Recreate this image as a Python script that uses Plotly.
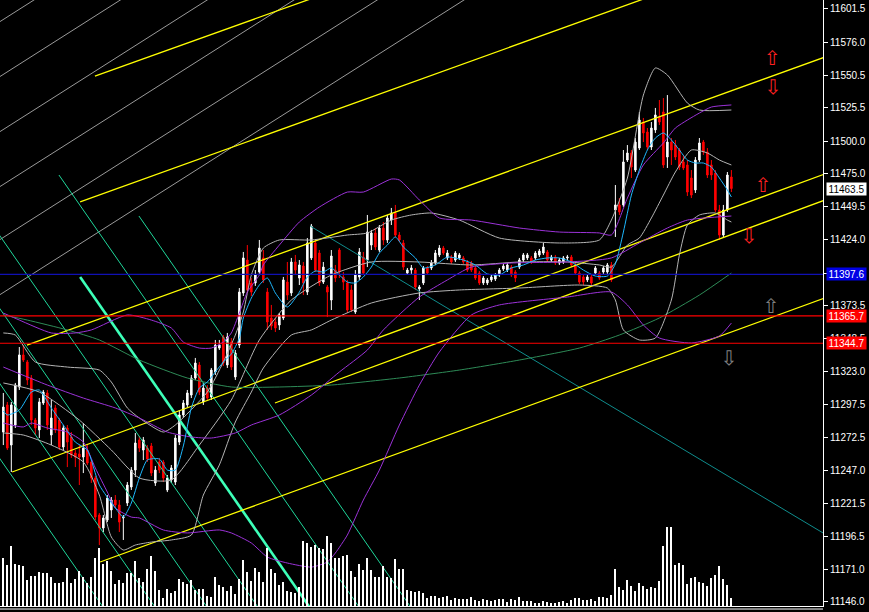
import plotly.graph_objects as go

# ---- candles, oldest first (one bar per index) ----
OPEN = [11276.5, 11297.3, 11266.5, 11281.9, 11311.1, 11335.7, 11330.3, 11318.0, 11285.7, 11278.1,
        11298.8, 11306.5, 11274.2, 11295.0, 11285.7, 11265.0, 11279.6, 11272.7, 11260.4, 11259.6,
        11257.3, 11262.7, 11253.5, 11241.2, 11212.8, 11202.8, 11208.9, 11216.6, 11224.3, 11220.5,
        11210.5, 11222.0, 11234.3, 11247.3, 11270.4, 11262.7, 11264.2, 11265.8, 11237.4, 11253.5,
        11253.5, 11232.0, 11239.7, 11238.1, 11268.8, 11289.6, 11297.3, 11304.9, 11318.0, 11328.0,
        11299.6, 11310.3, 11303.4, 11322.6, 11341.0, 11349.5, 11328.0, 11345.6, 11318.8, 11343.3,
        11383.3, 11408.6, 11391.0, 11391.0, 11399.4, 11410.2, 11384.0, 11364.1, 11361.0, 11358.7,
        11364.1, 11391.7, 11383.3, 11407.1, 11394.8, 11404.0, 11384.0, 11410.2, 11421.7, 11414.0,
        11391.7, 11387.9, 11377.9, 11400.9, 11416.3, 11395.6, 11391.0, 11385.6, 11368.7, 11395.6,
        11410.9, 11408.6, 11420.1, 11429.4, 11416.3, 11433.2, 11424.0, 11439.3, 11444.7, 11427.8,
        11421.7, 11398.6, 11400.9, 11400.9, 11386.4, 11391.0, 11402.5, 11402.5, 11406.3, 11412.5,
        11417.8, 11410.2, 11410.9, 11408.6, 11410.2, 11410.2, 11407.1, 11406.3, 11402.5, 11398.6,
        11391.0, 11391.0, 11393.3, 11394.0, 11397.1, 11401.7, 11400.9, 11403.2, 11399.4, 11403.2,
        11408.6, 11410.2, 11410.2, 11410.2, 11412.5, 11414.0, 11414.8, 11408.6, 11410.9, 11406.3,
        11407.1, 11410.2, 11410.9, 11404.8, 11398.6, 11395.6, 11393.3, 11395.6, 11398.6, 11398.6,
        11399.4, 11399.4, 11404.8, 11447.0, 11450.9, 11450.9, 11485.4, 11490.8, 11477.7, 11494.6,
        11514.6, 11506.9, 11495.4, 11508.5, 11518.4, 11522.3, 11487.7, 11499.2, 11496.9, 11493.1,
        11483.9, 11481.6, 11471.6, 11462.4, 11485.4, 11499.2, 11491.6, 11481.6, 11475.4, 11447.0,
        11427.8, 11447.0, 11472.4]
HIGH = [11306.5, 11299.6, 11299.6, 11314.2, 11341.8, 11343.3, 11331.8, 11320.3, 11287.3, 11302.6,
        11308.8, 11308.8, 11301.1, 11297.3, 11287.3, 11281.9, 11281.9, 11276.5, 11262.7, 11266.5,
        11283.4, 11266.5, 11255.0, 11242.7, 11214.3, 11212.8, 11228.1, 11226.6, 11228.1, 11224.3,
        11212.8, 11238.1, 11249.6, 11275.8, 11273.5, 11272.7, 11266.5, 11268.1, 11250.4, 11256.6,
        11255.0, 11243.5, 11251.2, 11274.2, 11293.4, 11301.1, 11308.8, 11320.3, 11333.4, 11330.3,
        11314.2, 11312.6, 11325.7, 11347.2, 11347.2, 11351.0, 11352.6, 11348.7, 11339.5, 11387.1,
        11414.8, 11420.1, 11394.8, 11400.9, 11424.0, 11416.3, 11387.1, 11374.1, 11364.1, 11367.9,
        11395.6, 11407.1, 11410.2, 11412.5, 11408.6, 11407.1, 11425.5, 11436.3, 11424.0, 11416.3,
        11407.1, 11389.4, 11416.3, 11404.8, 11417.8, 11399.4, 11393.3, 11389.4, 11400.9, 11417.8,
        11414.8, 11443.2, 11431.7, 11433.2, 11435.5, 11437.8, 11443.2, 11448.6, 11450.9, 11430.1,
        11424.0, 11402.5, 11404.8, 11402.5, 11389.4, 11404.0, 11404.0, 11408.6, 11416.3, 11420.1,
        11419.4, 11416.3, 11412.5, 11415.5, 11414.0, 11411.7, 11408.6, 11407.9, 11404.0, 11400.2,
        11396.3, 11394.8, 11397.1, 11398.6, 11402.5, 11405.6, 11406.3, 11404.8, 11400.9, 11410.2,
        11414.0, 11414.0, 11411.7, 11415.5, 11417.1, 11421.7, 11416.3, 11412.5, 11412.5, 11410.2,
        11411.7, 11412.5, 11412.5, 11406.3, 11400.2, 11397.1, 11397.1, 11397.1, 11404.0, 11400.2,
        11404.0, 11406.3, 11407.1, 11466.2, 11456.2, 11493.1, 11496.9, 11493.1, 11502.3, 11522.3,
        11517.7, 11510.0, 11514.6, 11525.4, 11531.5, 11533.0, 11535.3, 11502.3, 11500.8, 11494.6,
        11489.3, 11485.4, 11477.7, 11487.7, 11502.3, 11500.8, 11494.6, 11485.4, 11477.7, 11450.9,
        11450.9, 11476.2, 11477.7]
LOW = [11266.5, 11262.7, 11245.8, 11279.6, 11308.8, 11330.3, 11312.6, 11281.9, 11274.2, 11271.9,
       11297.3, 11278.1, 11266.5, 11275.8, 11262.7, 11262.7, 11249.6, 11256.6, 11249.6, 11235.8,
       11245.0, 11251.2, 11237.4, 11208.9, 11189.7, 11199.7, 11207.4, 11210.5, 11218.2, 11199.7,
       11193.6, 11219.7, 11232.0, 11242.0, 11261.2, 11255.0, 11253.5, 11242.7, 11235.1, 11245.0,
       11238.1, 11230.4, 11237.4, 11235.8, 11266.5, 11287.3, 11295.0, 11302.6, 11316.5, 11304.9,
       11297.3, 11301.1, 11301.1, 11320.3, 11339.5, 11327.2, 11325.7, 11324.1, 11316.5, 11341.0,
       11381.0, 11383.3, 11381.0, 11388.7, 11397.1, 11391.0, 11354.9, 11354.9, 11353.3, 11354.9,
       11362.5, 11377.9, 11381.0, 11397.1, 11389.4, 11381.7, 11381.7, 11408.6, 11399.4, 11388.7,
       11390.2, 11364.8, 11370.2, 11391.7, 11394.8, 11385.6, 11367.9, 11368.7, 11367.2, 11393.3,
       11397.1, 11403.2, 11416.3, 11416.3, 11414.8, 11420.1, 11421.7, 11435.5, 11426.3, 11422.4,
       11400.9, 11397.1, 11397.9, 11385.6, 11377.9, 11389.4, 11397.1, 11400.9, 11404.8, 11410.9,
       11412.5, 11408.6, 11405.6, 11407.1, 11408.6, 11405.6, 11399.4, 11399.4, 11393.3, 11389.4,
       11389.4, 11389.4, 11391.7, 11392.5, 11395.6, 11400.2, 11399.4, 11395.6, 11391.7, 11401.7,
       11407.1, 11408.6, 11405.6, 11408.6, 11410.9, 11412.5, 11407.1, 11407.1, 11404.8, 11404.8,
       11405.6, 11408.6, 11403.2, 11397.1, 11390.2, 11389.4, 11391.7, 11389.4, 11397.1, 11393.3,
       11397.9, 11397.9, 11391.7, 11426.3, 11443.2, 11449.3, 11483.9, 11471.6, 11476.2, 11493.1,
       11499.2, 11493.1, 11493.1, 11506.2, 11512.3, 11479.3, 11479.3, 11481.6, 11485.4, 11477.7,
       11477.7, 11457.8, 11456.2, 11460.1, 11483.9, 11489.3, 11471.6, 11470.1, 11445.5, 11424.0,
       11425.5, 11445.5, 11460.8]
CLOSE = [11295.7, 11264.2, 11297.3, 11312.6, 11335.7, 11331.8, 11316.5, 11285.7, 11279.6, 11299.6,
         11307.2, 11281.9, 11287.3, 11278.1, 11265.0, 11279.6, 11268.8, 11258.9, 11257.3, 11257.3,
         11264.2, 11252.7, 11241.2, 11211.2, 11202.8, 11210.5, 11225.8, 11224.3, 11220.5, 11207.4,
         11211.2, 11235.8, 11247.3, 11268.1, 11264.2, 11270.4, 11255.8, 11245.0, 11247.3, 11247.3,
         11241.2, 11241.2, 11248.9, 11271.9, 11289.6, 11298.8, 11306.5, 11318.0, 11329.5, 11307.2,
         11310.3, 11302.6, 11324.1, 11343.3, 11343.3, 11329.5, 11349.5, 11326.4, 11337.2, 11384.0,
         11410.2, 11385.6, 11384.0, 11397.1, 11417.8, 11393.3, 11361.0, 11357.9, 11356.4, 11366.4,
         11393.3, 11381.7, 11407.1, 11400.9, 11404.8, 11391.0, 11421.7, 11434.7, 11400.9, 11391.0,
         11403.2, 11384.0, 11411.7, 11394.8, 11399.4, 11391.7, 11370.2, 11370.2, 11397.1, 11414.8,
         11398.6, 11430.1, 11429.4, 11418.6, 11433.2, 11424.0, 11440.9, 11444.7, 11427.8, 11424.0,
         11403.2, 11400.9, 11402.5, 11387.9, 11387.9, 11402.5, 11398.6, 11406.3, 11414.0, 11417.8,
         11414.0, 11414.0, 11407.1, 11414.0, 11412.5, 11407.1, 11400.9, 11400.9, 11394.8, 11391.0,
         11394.8, 11393.3, 11395.6, 11397.1, 11400.9, 11404.0, 11404.8, 11397.1, 11394.8, 11408.6,
         11412.5, 11412.5, 11407.1, 11414.0, 11415.5, 11418.6, 11408.6, 11410.9, 11406.3, 11408.6,
         11410.2, 11410.9, 11404.8, 11398.6, 11391.7, 11391.7, 11395.6, 11391.0, 11402.5, 11394.8,
         11402.5, 11404.8, 11393.3, 11450.9, 11445.5, 11483.9, 11490.8, 11480.0, 11499.2, 11516.1,
         11506.2, 11495.4, 11510.0, 11520.0, 11514.6, 11481.6, 11499.2, 11493.1, 11487.7, 11480.0,
         11479.3, 11460.8, 11458.5, 11485.4, 11498.5, 11491.6, 11473.9, 11473.9, 11447.0, 11427.8,
         11447.0, 11473.9, 11463.5]
VOLUME = [48, 41, 60, 42, 41, 40, 26, 30, 30, 34, 33, 33, 29, 23, 23, 24, 38, 23, 27, 35,
          29, 23, 29, 48, 58, 42, 45, 35, 22, 26, 23, 33, 33, 45, 28, 24, 37, 50, 35, 16,
          8, 17, 13, 15, 27, 24, 22, 26, 16, 17, 17, 10, 9, 29, 21, 19, 15, 20, 12, 27,
          46, 34, 25, 38, 34, 24, 58, 37, 33, 21, 24, 15, 14, 13, 19, 65, 63, 59, 61, 58,
          57, 70, 63, 48, 48, 50, 51, 35, 29, 42, 36, 48, 36, 29, 29, 40, 29, 28, 47, 37,
          37, 16, 15, 14, 15, 13, 8, 10, 10, 8, 9, 10, 6, 8, 7, 7, 7, 9, 6, 5,
          7, 6, 5, 6, 7, 7, 4, 7, 6, 9, 5, 5, 5, 3, 3, 5, 4, 3, 3, 4,
          5, 3, 6, 8, 8, 6, 6, 7, 5, 9, 9, 8, 11, 37, 19, 16, 26, 20, 15, 23,
          20, 17, 19, 18, 25, 60, 79, 79, 41, 43, 41, 22, 28, 29, 24, 23, 20, 28, 31, 40,
          27, 21, 8]

# ---- indicator lines, sampled at bar indices ----
MA_IDX = [0, 1, 4, 7, 9, 12, 15, 18, 21, 24, 28, 30, 32, 34, 36, 39, 41, 43, 45, 47, 49, 51, 53, 55, 57,
          59, 60, 62, 64, 66, 68, 71, 74, 76, 78, 80, 82, 84, 86, 88, 90, 92, 94, 96, 98, 100, 103, 105,
          108, 111, 115, 118, 121, 124, 127, 130, 133, 136, 139, 142, 145, 148, 151, 153, 155, 157, 159,
          161, 163, 165, 167, 169, 171, 173, 175, 177, 179, 181, 182]
MA_VAL = [11292.7, 11289.6, 11293.4, 11307.2, 11308.8, 11295.0, 11281.9, 11268.8, 11262.7, 11235.8,
          11218.2, 11211.2, 11222.0, 11241.2, 11255.0, 11255.8, 11247.3, 11247.3, 11265.8, 11295.0,
          11310.3, 11314.9, 11322.6, 11330.3, 11336.4, 11348.7, 11364.1, 11379.4, 11389.4, 11394.8,
          11383.3, 11372.5, 11384.0, 11395.6, 11400.2, 11399.4, 11402.5, 11397.1, 11391.7, 11391.0,
          11395.6, 11403.2, 11414.0, 11420.1, 11426.3, 11418.6, 11410.2, 11402.5, 11404.8, 11410.9,
          11408.6, 11404.8, 11397.9, 11397.1, 11402.5, 11404.8, 11408.6, 11410.2, 11410.2, 11407.1,
          11400.9, 11396.3, 11396.3, 11405.6, 11430.1, 11458.5, 11477.7, 11493.1, 11502.3, 11506.2,
          11500.8, 11493.1, 11485.4, 11483.1, 11483.1, 11480.0, 11471.6, 11462.4, 11457.0]

PU_IDX = [0, 4, 12, 18, 22, 31, 37, 42, 45, 49, 52, 55, 57, 59, 61, 64, 65, 69, 74, 79, 86, 90, 97, 99,
          104, 109, 117, 129, 139, 149, 152, 156, 160, 165, 168, 171, 174, 177, 182]
PU_VAL = [11367.9, 11362.5, 11352.6, 11352.6, 11354.9, 11366.4, 11362.5, 11356.4, 11345.6, 11341.0,
          11341.0, 11345.6, 11352.6, 11367.9, 11384.0, 11397.1, 11404.8, 11420.1, 11437.8, 11449.3,
          11460.8, 11460.8, 11470.8, 11470.1, 11454.7, 11440.9, 11439.3, 11433.2, 11430.1, 11429.4,
          11427.8, 11456.2, 11481.6, 11498.5, 11510.0, 11516.1, 11521.5, 11526.1, 11527.7]
PM_IDX = [0, 11, 20, 28, 34, 41, 47, 52, 58, 62, 69, 77, 84, 91, 95, 104, 111, 117, 127, 141, 152, 159,
          166, 171, 182]
PM_VAL = [11326.4, 11312.6, 11302.6, 11295.0, 11287.3, 11276.5, 11272.7, 11271.9, 11275.8, 11281.9,
          11289.6, 11304.9, 11322.6, 11339.5, 11354.9, 11380.2, 11393.3, 11403.2, 11406.3, 11407.1,
          11410.2, 11421.7, 11433.2, 11439.3, 11442.4]
PL_IDX = [0, 5, 7, 11, 16, 20, 23, 26, 28, 32, 34, 40, 46, 54, 57, 62, 66, 71, 77, 81, 83, 86, 90, 94,
          99, 104, 109, 117, 124, 141, 152, 156, 160, 164, 172, 179, 182]
PL_VAL = [11283.4, 11280.4, 11283.4, 11279.6, 11276.5, 11268.8, 11248.9, 11230.4, 11218.2, 11211.2,
          11210.5, 11201.3, 11199.0, 11201.3, 11199.0, 11191.3, 11180.5, 11175.9, 11172.8, 11176.7,
          11183.6, 11197.4, 11224.3, 11247.3, 11281.9, 11312.6, 11338.0, 11366.4, 11374.1, 11380.2,
          11384.0, 11374.1, 11358.7, 11348.7, 11344.9, 11350.3, 11360.2]

GU_IDX = [0, 3, 8, 16, 24, 27, 31, 34, 40, 43, 51, 55, 58, 60, 62, 65, 69, 77, 86, 91, 97, 102, 107,
          114, 124, 139, 149, 152, 156, 160, 163, 166, 171, 174, 182]
GU_VAL = [11352.6, 11351.0, 11330.3, 11326.4, 11324.1, 11314.9, 11295.0, 11287.3, 11276.5, 11281.9,
          11307.2, 11330.3, 11351.0, 11368.7, 11397.1, 11417.8, 11424.0, 11424.0, 11427.8, 11429.4,
          11439.3, 11443.2, 11444.7, 11439.3, 11425.5, 11421.7, 11424.0, 11439.3, 11471.6, 11535.3,
          11556.1, 11550.7, 11529.2, 11523.8, 11523.8]
GM_IDX = [0, 9, 19, 27, 34, 42, 49, 57, 64, 72, 82, 92, 104, 117, 129, 141, 149, 152, 156, 159, 162,
          165, 168, 172, 176, 179, 182]
GM_VAL = [11314.2, 11307.2, 11285.7, 11262.7, 11241.2, 11239.7, 11266.5, 11301.1, 11347.2, 11377.9,
          11397.1, 11407.1, 11407.1, 11404.8, 11407.1, 11407.1, 11404.8, 11403.2, 11420.1, 11425.5,
          11440.9, 11458.5, 11476.2, 11493.1, 11490.8, 11485.4, 11481.6]
GL_IDX = [0, 5, 12, 20, 24, 27, 30, 33, 37, 42, 47, 50, 54, 58, 62, 65, 72, 77, 82, 92, 104, 114, 129,
          144, 151, 153, 155, 159, 163, 167, 169, 171, 174, 178, 181, 182]
GL_VAL = [11275.8, 11274.2, 11266.5, 11253.5, 11228.1, 11195.9, 11185.9, 11189.7, 11192.0, 11193.6,
          11197.4, 11228.1, 11251.2, 11284.2, 11307.2, 11325.7, 11351.0, 11354.9, 11362.5, 11375.6,
          11383.3, 11385.6, 11387.1, 11389.4, 11387.1, 11377.9, 11354.9, 11347.2, 11348.7, 11377.9,
          11412.5, 11435.5, 11443.2, 11444.7, 11439.3, 11437.8]

SLOW_IDX = [0, 6, 16, 24, 34, 46, 57, 69, 82, 99, 114, 129, 144, 154, 164, 174, 182]
SLOW_VAL = [11366.4, 11362.5, 11354.9, 11347.2, 11331.8, 11318.0, 11311.1, 11311.1, 11312.6, 11318.0,
            11324.1, 11331.8, 11341.0, 11351.0, 11364.1, 11381.7, 11398.6]

# ---- hand drawn objects: (bar0, price0, bar1, price1) ----
YELLOW_LINES = [(22.9, 11549.9, 81.7, 11614.5), (19.2, 11453.2, 164.2, 11613.7),
                (5.9, 11343.3, 206.0, 11565.2), (2.2, 11245.8, 206.0, 11475.4),
                (67.9, 11298.8, 206.0, 11455.4), (24.2, 11176.7, 206.0, 11380.2)]
FAN_LINES = [(-1, 11591.4, 9.6, 11612.1), (-1, 11549.2, 31.2, 11612.1), (-1, 11506.9, 52.9, 11612.1),
             (-1, 11464.7, 74.6, 11612.1), (-1, 11424.0, 95.4, 11612.1), (-1, 11381.7, 117.1, 11612.1)]
GREEN_LINES = [(-1, 11256.6, 26.3, 11136.0), (-1, 11314.2, 39.3, 11136.0), (-1, 11371.8, 52.3, 11136.0),
               (-1, 11427.8, 65.0, 11136.0), (13.9, 11473.9, 90.3, 11136.0), (33.9, 11442.4, 103.2, 11136.0)]
GREEN_BOLD = [(19.2, 11395.6, 77.9, 11136.0)]
TEAL_LINES = [(76.7, 11434.7, 206.0, 11197.0)]

RED_LEVELS = [11365.7, 11344.7]
BLUE_LEVEL = 11397.6

UP_RED = ([192.2, 189.9], [11562.2, 11464.7])
DOWN_RED = ([192.4, 186.4], [11539.9, 11425.5])
UP_GREY = ([191.9], [11371.8])
DOWN_GREY = ([181.4], [11331.8])

TICKS = [11146.0, 11171.0, 11196.5, 11221.5, 11247.0, 11272.5, 11297.5, 11323.0, 11348.5, 11373.5,
         11398.5, 11424.0, 11449.5, 11475.0, 11500.0, 11525.5, 11550.5, 11576.0, 11601.5]

Y_LO, Y_HI = 11142.9, 11608.3
X_LO, X_HI = -0.83, 204.9


def add_segments(fig, segs, color, width=1.0):
    xs, ys = [], []
    for x0, y0, x1, y1 in segs:
        xs += [x0, x1, None]
        ys += [y0, y1, None]
    fig.add_trace(go.Scatter(x=xs, y=ys, mode='lines', hoverinfo='skip',
                             line=dict(color=color, width=width)))


def add_curve(fig, xs, ys, color):
    fig.add_trace(go.Scatter(x=xs, y=ys, mode='lines', hoverinfo='skip',
                             line=dict(color=color, width=1, shape='spline', smoothing=0.6)))


def add_arrows(fig, pts, glyph, color):
    fig.add_trace(go.Scatter(x=pts[0], y=pts[1], mode='text', text=[glyph] * len(pts[0]),
                             textfont=dict(color=color, size=20, family='DejaVu Sans'),
                             textposition='middle center', hoverinfo='skip'))


fig = go.Figure()
bars = list(range(len(CLOSE)))

# volume sits on its own hidden axis along the bottom
fig.add_trace(go.Bar(x=bars, y=VOLUME, width=0.25, yaxis='y2', hoverinfo='skip',
                     marker=dict(color='white', line=dict(width=0))))

add_segments(fig, FAN_LINES, '#9a9a9a')
add_segments(fig, GREEN_LINES, '#1fd69a')
add_segments(fig, GREEN_BOLD, '#3dffb8', 2.6)
add_segments(fig, TEAL_LINES, '#0f8c8c')
add_segments(fig, YELLOW_LINES, '#ffff00', 1.3)

add_curve(fig, SLOW_IDX, SLOW_VAL, '#2e8b57')
add_curve(fig, GU_IDX, GU_VAL, '#b4b4b4')
add_curve(fig, GM_IDX, GM_VAL, '#b4b4b4')
add_curve(fig, GL_IDX, GL_VAL, '#b4b4b4')
add_curve(fig, PU_IDX, PU_VAL, '#9b32d8')
add_curve(fig, PM_IDX, PM_VAL, '#9b32d8')
add_curve(fig, PL_IDX, PL_VAL, '#9b32d8')

fig.add_trace(go.Candlestick(
    x=bars, open=OPEN, high=HIGH, low=LOW, close=CLOSE, whiskerwidth=0, hoverinfo='skip',
    increasing=dict(line=dict(color='white', width=1), fillcolor='white'),
    decreasing=dict(line=dict(color='#ff0000', width=1), fillcolor='#ff0000')))

add_curve(fig, MA_IDX, MA_VAL, '#1eb8ff')

add_arrows(fig, UP_RED, '\u21e7', '#ff2020')
add_arrows(fig, DOWN_RED, '\u21e9', '#ff2020')
add_arrows(fig, UP_GREY, '\u21e7', '#808080')
add_arrows(fig, DOWN_GREY, '\u21e9', '#808080')

for lvl in RED_LEVELS:
    fig.add_hline(y=lvl, line=dict(color='#ff0000', width=1.2))
fig.add_hline(y=BLUE_LEVEL, line=dict(color='#1010b4', width=1.2))

# price tags on the scale
tags = [(CLOSE[-1], 'white', 'black'), (BLUE_LEVEL, '#0000e6', 'white'),
        (RED_LEVELS[0], '#ff0000', 'white'), (RED_LEVELS[1], '#ff0000', 'white')]
for val, bg, fg in tags:
    fig.add_annotation(xref='paper', x=1, xanchor='left', xshift=3, yref='y', y=val,
                       text=f'{val:.1f}', showarrow=False, bgcolor=bg, borderpad=0,
                       width=39, height=12, font=dict(color=fg, size=10, family='Liberation Sans'))

# second frame line under the chart
fig.add_shape(type='line', xref='paper', yref='paper', x0=0, x1=1, y0=-0.005, y1=-0.005,
              line=dict(color='white', width=1))

fig.update_layout(
    width=869, height=612,
    margin=dict(l=0, r=46, t=0, b=6),
    paper_bgcolor='black', plot_bgcolor='black',
    showlegend=False, boxgap=0.45,
    font=dict(family='Liberation Sans', color='white'),
    xaxis=dict(range=[X_LO, X_HI], showgrid=False, zeroline=False, showticklabels=False,
               ticks='', showline=True, linecolor='white', rangeslider=dict(visible=False)),
    yaxis=dict(range=[Y_LO, Y_HI], side='right', showgrid=False, zeroline=False,
               tickvals=TICKS, ticktext=[f'{v:.1f}' for v in TICKS],
               ticks='outside', ticklen=4, tickcolor='white',
               tickfont=dict(color='white', size=10, family='Liberation Sans'),
               showline=True, linecolor='white'),
    yaxis2=dict(range=[0, 606], overlaying='y', visible=False),
)

# drop the browser's default page margin so the chart fills the window
fig.write_html("out.html", config={'displayModeBar': False},
               post_script="document.body.style.margin='0';document.body.style.background='black';")
